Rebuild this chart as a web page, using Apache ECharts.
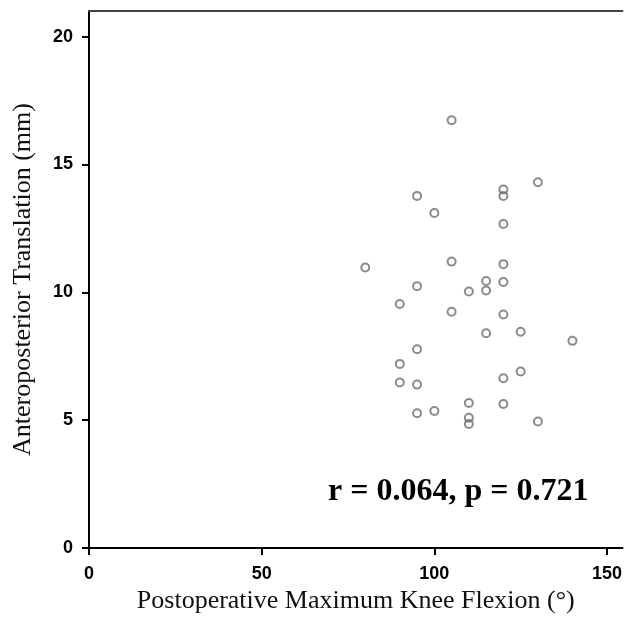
<!DOCTYPE html>
<html>
<head>
<meta charset="utf-8">
<script src="https://cdn.jsdelivr.net/npm/echarts@6/dist/echarts.min.js"></script>
<style>
  html, body { margin: 0; padding: 0; background: #fff; }
  #container { width: 625px; height: 625px; }
</style>
</head>
<body>
<div id="container"></div>
<script type="text/javascript">
    // flexion (deg) vs AP translation (mm)
    var flexion = [105, 130, 120, 120, 95, 100, 120, 80, 105, 120, 95, 115, 120, 110, 115, 90, 105,
                   120, 115, 125, 140, 95, 90, 90, 95, 125, 120, 110, 120, 95, 100, 110, 110, 130];
    var translation = [16.73, 14.3, 14.02, 13.77, 13.77, 13.1, 12.67, 10.97, 11.2, 11.1, 10.24, 10.44, 10.4, 10.03, 10.07, 9.54, 9.24,
                       9.13, 8.4, 8.46, 8.1, 7.77, 7.2, 6.47, 6.39, 6.9, 6.64, 5.67, 5.63, 5.27, 5.36, 5.09, 4.85, 4.95];
    var xTicks = [0, 50, 100, 150];
    var yTicks = [0, 5, 10, 15, 20];
    var statText = 'r = 0.064, p = 0.721';

    var points = flexion.map(function (x, i) { return [x, translation[i]]; });

    var chartDom = document.getElementById('container');
    var myChart = echarts.init(chartDom);
    var option;

    var tickLabel = {
        fontFamily: 'Liberation Sans',
        fontWeight: 'bold',
        fontSize: 18,
        color: '#000'
    };

    option = {
        animation: false,
        grid: {
            left: 89,
            top: 11,
            bottom: 77,
            right: 0
        },
        xAxis: [
            {
                type: 'value',
                min: 0,
                max: 154.5,
                name: 'Postoperative Maximum Knee Flexion (°)',
                nameLocation: 'middle',
                nameGap: 40,
                nameTextStyle: { fontFamily: 'Liberation Serif', fontSize: 26, color: '#111' },
                splitLine: { show: false },
                axisLine: { show: true, onZero: false, lineStyle: { color: '#000', width: 2 } },
                axisTick: { show: true, length: 7, customValues: xTicks, lineStyle: { color: '#000', width: 2 } },
                axisLabel: Object.assign({ margin: 17, customValues: xTicks }, tickLabel)
            },
            {
                // top frame line
                type: 'value',
                position: 'top',
                min: 0,
                max: 154.5,
                splitLine: { show: false },
                axisLine: { show: true, onZero: false, lineStyle: { color: '#444', width: 2 } },
                axisTick: { show: false },
                axisLabel: { show: false }
            }
        ],
        yAxis: [
            {
                type: 'value',
                min: 0,
                max: 21,
                name: 'Anteroposterior Translation (mm)',
                nameLocation: 'middle',
                nameGap: 53,
                nameRotate: 90,
                nameTextStyle: { fontFamily: 'Liberation Serif', fontSize: 26, color: '#111' },
                splitLine: { show: false },
                axisLine: { show: true, onZero: false, lineStyle: { color: '#000', width: 2 } },
                axisTick: { show: true, length: 7, customValues: yTicks, lineStyle: { color: '#000', width: 2 } },
                axisLabel: Object.assign({ margin: 16, customValues: yTicks }, tickLabel)
            }
        ],
        series: [
            {
                type: 'scatter',
                symbol: 'circle',
                symbolSize: 8,
                itemStyle: {
                    color: 'rgba(255,255,255,0)',
                    borderColor: '#6e6e6e',
                    borderWidth: 2
                },
                data: points
            }
        ],
        graphic: [
            {
                type: 'text',
                left: 328,
                top: 476,
                style: {
                    text: statText,
                    font: 'bold 32px "Liberation Serif"',
                    fill: '#000'
                }
            }
        ]
    };

    option && myChart.setOption(option);
</script>
</body>
</html>
